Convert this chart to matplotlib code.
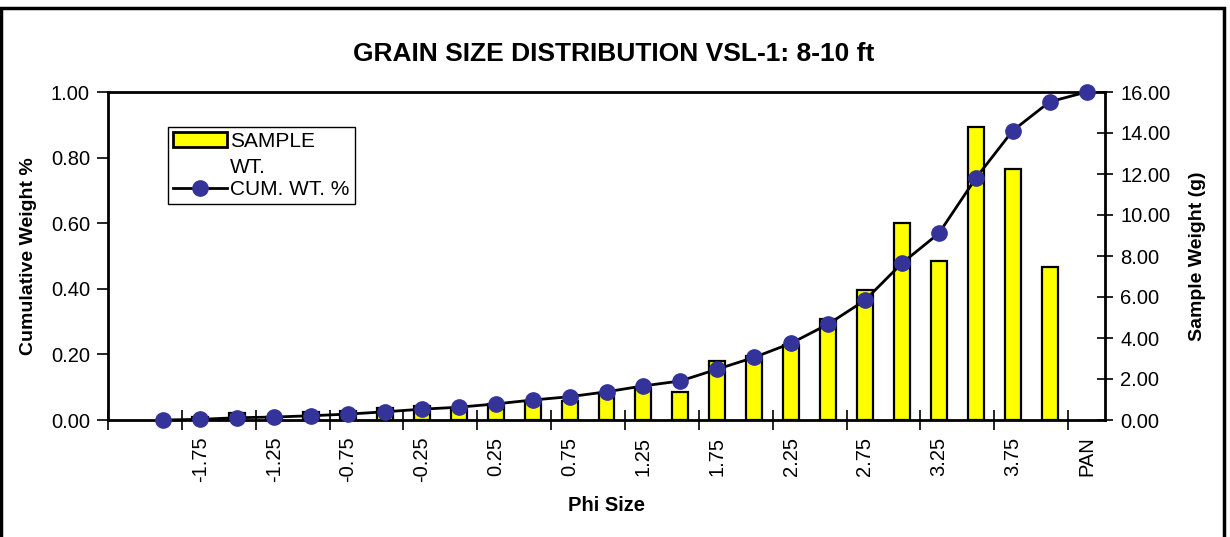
import matplotlib
matplotlib.use("Agg")
import matplotlib.pyplot as plt
import numpy as np
from matplotlib.ticker import FormatStrFormatter, FixedLocator
from matplotlib.patches import Patch, Rectangle
from matplotlib.lines import Line2D
from matplotlib.legend_handler import HandlerPatch

plt.rcParams['font.family'] = ['Liberation Sans', 'DejaVu Sans']

# categories (first slot is an empty category)
categories = ["", "-2.00", "-1.75", "-1.50", "-1.25", "-1.00", "-0.75", "-0.50", "-0.25",
              "0.00", "0.25", "0.50", "0.75", "1.00", "1.25", "1.50", "1.75", "2.00",
              "2.25", "2.50", "2.75", "3.00", "3.25", "3.50", "3.75", "4.00", "PAN"]
# sample weight (g) for -2.00 .. 4.00 (no bar at PAN)
sample_wt = [0.0, 0.15, 0.35, 0.15, 0.4, 0.45, 0.6, 0.68, 0.55, 0.8, 0.95, 0.92, 1.3,
             1.55, 1.38, 2.9, 3.1, 3.65, 4.94, 6.34, 9.59, 7.76, 14.28, 12.23, 7.45]
# cumulative weight fraction for -2.00 .. PAN
cum_wt = [0.0, 0.002, 0.007, 0.009, 0.013, 0.018, 0.025, 0.033, 0.039, 0.049, 0.061,
          0.071, 0.086, 0.104, 0.119, 0.155, 0.191, 0.234, 0.292, 0.365, 0.478, 0.569,
          0.737, 0.882, 0.970, 1.0]

W, H = 1230, 537
fig = plt.figure(figsize=(W / 100, H / 100), dpi=100)
ax = fig.add_axes([108 / W, 1 - 420 / H, (1105 - 108) / W, (420 - 92) / H])
ax2 = ax.twinx()
ax.set_zorder(ax2.get_zorder() + 1)
ax.patch.set_visible(False)

n = len(categories)
xb = np.arange(1, 1 + len(sample_wt))
xc = np.arange(1, 1 + len(cum_wt))

ax2.bar(xb, sample_wt, width=0.43, color='#ffff00', edgecolor='black', linewidth=1.6, zorder=2)
ax.plot(xc, cum_wt, color='black', linewidth=2, marker='o', markersize=11,
        markerfacecolor='#333399', markeredgecolor='#333399', zorder=3, clip_on=False)

ax.set_xlim(-0.5, n - 0.5)
ax.set_ylim(0, 1.0)
ax2.set_ylim(0, 16)
ax.set_yticks(np.arange(0, 1.01, 0.2))
ax2.set_yticks(np.arange(0, 16.1, 2))
ax.yaxis.set_major_formatter(FormatStrFormatter('%.2f'))
ax2.yaxis.set_major_formatter(FormatStrFormatter('%.2f'))

# x labels every second category, tick marks at category boundaries
lab_idx = list(range(0, n, 2))
ax.set_xticks(lab_idx)
ax.set_xticklabels([categories[i] for i in lab_idx], rotation=90, fontsize=14.5)
ax.tick_params(axis='x', which='major', length=0, pad=12)
ax.xaxis.set_minor_locator(FixedLocator(np.arange(-0.5, n, 2)))
ax.tick_params(axis='x', which='minor', direction='inout', length=14, width=1.2)
ax2.tick_params(axis='x', which='both', length=0)

ax.tick_params(axis='y', direction='out', length=8, width=1.2, labelsize=14.5, pad=5)
ax2.tick_params(axis='y', direction='inout', length=12, width=1.2, labelsize=14.5, pad=5)

for a in (ax, ax2):
    for s in a.spines.values():
        s.set_linewidth(2)
ax.spines['right'].set_visible(False)
ax2.spines['left'].set_visible(False)
ax2.spines['bottom'].set_visible(False)
ax2.spines['top'].set_visible(False)

ax.set_xlabel('Phi Size', fontsize=14.5, fontweight='bold', labelpad=10)
ax.set_ylabel('Cumulative Weight %', fontsize=14, fontweight='bold', labelpad=10)
ax2.set_ylabel('Sample Weight (g)', fontsize=14, fontweight='bold', labelpad=13)

fig.text(614 / W, 1 - 54 / H, 'GRAIN SIZE DISTRIBUTION VSL-1: 8-10 ft', ha='center',
         va='center', fontsize=19, fontweight='bold')


def top_patch(legend, orig_handle, xdescent, ydescent, width, height, fontsize):
    return Rectangle((-xdescent, -ydescent + 0.75 * fontsize), width, height)


handles = [Patch(facecolor='#ffff00', edgecolor='black', linewidth=2),
           Line2D([], [], color='black', linewidth=2, marker='o', markersize=11,
                  markerfacecolor='#333399', markeredgecolor='#333399')]
leg = ax.legend(handles, ['SAMPLE\nWT.', 'CUM. WT. %'], loc='upper left',
                bbox_to_anchor=(0.060, 0.893), fontsize=15, frameon=True, fancybox=False,
                edgecolor='black', framealpha=1, handlelength=2.6, borderpad=0.25,
                labelspacing=0.15, handletextpad=0.15, borderaxespad=0,
                handler_map={Patch: HandlerPatch(patch_func=top_patch)})
leg.get_texts()[0].set_linespacing(1.45)
leg.get_frame().set_linewidth(1)

# figure border
fig.patches.append(Rectangle((1 / W, -0.02), (1224 - 1) / W, 1 - 8 / H + 0.02,
                             transform=fig.transFigure, fill=False, edgecolor='black',
                             linewidth=2.5))

fig.savefig('out.png', dpi=100)
